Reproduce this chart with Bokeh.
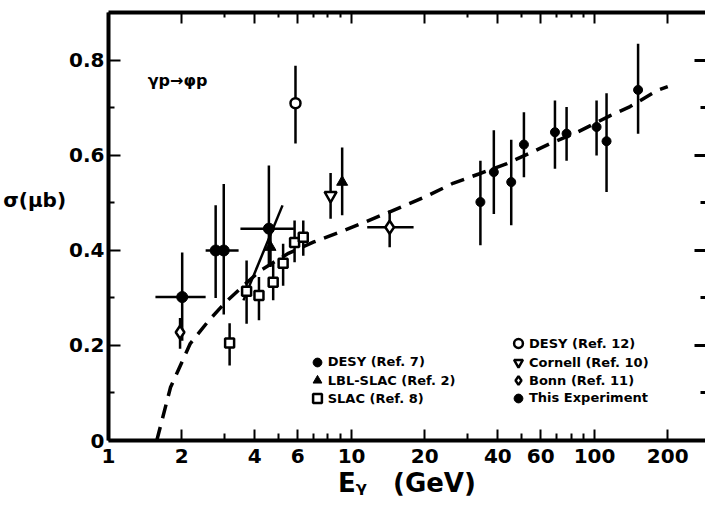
from bokeh.plotting import figure
from bokeh.models import (Range1d, LogAxis, LinearAxis, FixedTicker, Label,
                          Legend, LegendItem)
from bokeh.embed import file_html
from bokeh.resources import INLINE

# ---------------- data ----------------
# DESY (Ref. 7) - large filled circles
desy7_E = [2.01, 2.76, 2.98, 4.57]
desy7_y = [0.302, 0.40, 0.40, 0.446]
desy7_lo = [0.21, 0.30, 0.265, 0.37]
desy7_hi = [0.396, 0.495, 0.54, 0.579]
desy7_Elo = [1.56, 2.76, 2.51, 3.49]
desy7_Ehi = [2.51, 2.76, 3.43, 5.79]

# LBL-SLAC (Ref. 2) - filled triangles
lbl_E = [4.64, 9.15]
lbl_y = [0.407, 0.544]
lbl_lo = [0.365, 0.474]
lbl_hi = [0.45, 0.617]

# SLAC (Ref. 8) - open squares
slac_E = [3.15, 3.70, 4.16, 4.76, 5.23, 5.83, 6.33]
slac_y = [0.205, 0.314, 0.305, 0.333, 0.373, 0.417, 0.428]
slac_lo = [0.158, 0.246, 0.253, 0.295, 0.326, 0.375, 0.389]
slac_hi = [0.247, 0.379, 0.344, 0.372, 0.414, 0.463, 0.463]

# DESY (Ref. 12) - open circle
desy12_E = [5.88]
desy12_y = [0.710]
desy12_lo = [0.625]
desy12_hi = [0.789]

# Cornell (Ref. 10) - open inverted triangle
cornell_E = [8.2]
cornell_y = [0.516]
cornell_lo = [0.467]
cornell_hi = [0.563]

# Bonn (Ref. 11) - open diamonds
bonn_E = [1.97, 14.35]
bonn_y = [0.228, 0.449]
bonn_lo = [0.193, 0.407]
bonn_hi = [0.258, 0.484]
bonn_Elo = [1.97, 11.6]
bonn_Ehi = [1.97, 18.0]

# This Experiment - small filled circles
exp_E = [33.9, 38.5, 45.4, 51.2, 68.7, 76.7, 101.9, 112.0, 151.0]
exp_y = [0.502, 0.565, 0.544, 0.623, 0.649, 0.646, 0.660, 0.630, 0.738]
exp_lo = [0.411, 0.477, 0.453, 0.554, 0.572, 0.589, 0.600, 0.523, 0.646]
exp_hi = [0.589, 0.653, 0.633, 0.691, 0.716, 0.702, 0.716, 0.731, 0.835]

# dashed fit curve
curve_E = [1.58, 1.8, 2.17, 2.59, 3.03, 3.49, 4.22, 5.5, 7.0, 9.0, 11.0, 14.0,
           17.0, 20.5, 26.3, 33.4, 43.6, 55.2, 65.6, 85.0, 116.0, 140.0, 181.0, 200.0]
curve_y = [0.0, 0.112, 0.204, 0.253, 0.291, 0.32, 0.358, 0.394, 0.418, 0.439, 0.457, 0.479,
           0.497, 0.515, 0.542, 0.561, 0.583, 0.607, 0.625, 0.649, 0.684, 0.703, 0.737, 0.745]

# short solid line near 4-5 GeV
solid_E = [3.59, 5.2]
solid_y = [0.295, 0.495]

# axis ticks
x_major = [1, 2, 4, 6, 10, 20, 40, 60, 100, 200]
x_minor = [3, 5, 7, 8, 9, 30, 50, 70, 80, 90]
y_major = [0, 0.2, 0.4, 0.6, 0.8]
y_minor = [0.1, 0.3, 0.5, 0.7]
x_labels = {t: str(t) for t in x_major}
y_labels = {0: "0", 0.2: "0.2", 0.4: "0.4", 0.6: "0.6", 0.8: "0.8"}

# legend text
legend_left = ["DESY (Ref. 7)", "LBL-SLAC (Ref. 2)", "SLAC (Ref. 8)"]
legend_right = ["DESY (Ref. 12)", "Cornell (Ref. 10)", "Bonn (Ref. 11)", "This Experiment"]

FONT = "DejaVu Sans"
INK = "black"

# ---------------- figure ----------------
p = figure(width=705, height=512, x_axis_type="log",
           x_range=Range1d(1, 286), y_range=Range1d(0, 0.901),
           output_backend="svg", toolbar_location=None,
           min_border_left=108, min_border_right=0,
           min_border_top=12, min_border_bottom=72)
p.grid.visible = False
p.outline_line_color = None
p.background_fill_color = "white"
p.border_fill_color = "white"

# bottom axis
xa = p.xaxis[0]
xa.ticker = FixedTicker(ticks=x_major, minor_ticks=x_minor)
xa.major_label_overrides = x_labels
xa.major_tick_in = 11
xa.major_tick_out = 0
xa.minor_tick_in = 7
xa.minor_tick_out = 0
xa.axis_line_width = 4
xa.axis_line_color = INK
xa.major_tick_line_width = 2
xa.minor_tick_line_width = 2
xa.major_label_text_font = FONT
xa.major_label_text_font_style = "bold"
xa.major_label_text_font_size = "20px"
xa.major_label_text_color = INK
xa.major_label_standoff = 8
xa.axis_label = "E\u1d67\u2003(GeV)"
xa.axis_label_text_font = FONT
xa.axis_label_text_font_style = "bold"
xa.axis_label_text_font_size = "26px"
xa.axis_label_text_color = INK
xa.axis_label_standoff = 2

# left axis
ya = p.yaxis[0]
ya.ticker = FixedTicker(ticks=y_major, minor_ticks=y_minor)
ya.major_label_overrides = y_labels
ya.major_tick_in = 12
ya.major_tick_out = 0
ya.minor_tick_in = 6
ya.minor_tick_out = 0
ya.axis_line_width = 4
ya.axis_line_color = INK
ya.major_tick_line_width = 2
ya.minor_tick_line_width = 2
ya.major_label_text_font = FONT
ya.major_label_text_font_style = "bold"
ya.major_label_text_font_size = "20px"
ya.major_label_text_color = INK
ya.major_label_standoff = 4
ya.axis_label = "\u03c3(\u03bcb)\n\u2009\n\u2009"
ya.axis_label_orientation = "horizontal"
ya.axis_label_text_font = FONT
ya.axis_label_text_font_style = "bold"
ya.axis_label_text_font_size = "20px"
ya.axis_label_text_line_height = 1.1
ya.axis_label_text_color = INK
ya.axis_label_standoff = 0

# top axis (ticks only)
ta = LogAxis(ticker=FixedTicker(ticks=x_major, minor_ticks=x_minor))
ta.major_tick_in = 11
ta.major_tick_out = 0
ta.minor_tick_in = 5
ta.minor_tick_out = 0
ta.axis_line_width = 4
ta.major_tick_line_width = 2
ta.minor_tick_line_width = 2
ta.major_label_text_color = None
ta.major_label_text_font_size = "6px"
ta.major_label_standoff = 0
p.add_layout(ta, "above")

# right axis (ticks only)
ra = LinearAxis(ticker=FixedTicker(ticks=y_major, minor_ticks=y_minor))
ra.major_tick_in = 11
ra.major_tick_out = 0
ra.minor_tick_in = 5
ra.minor_tick_out = 0
ra.axis_line_color = None
ra.major_tick_line_width = 3
ra.minor_tick_line_width = 3
ra.major_label_text_color = None
ra.major_label_text_font_size = "6px"
ra.major_label_standoff = 0
p.add_layout(ra, "right")

# fit curve and solid line
p.line(curve_E, curve_y, line_dash="14 9", line_width=3.5, line_color=INK)
p.line(solid_E, solid_y, line_width=2.5, line_color=INK)

ERR_W = 2.5

def errbars(E, lo, hi, Elo=None, Ehi=None, y=None):
    p.segment(x0=E, y0=lo, x1=E, y1=hi, line_width=ERR_W, line_color=INK)
    if Elo is not None:
        p.segment(x0=Elo, y0=y, x1=Ehi, y1=y, line_width=ERR_W, line_color=INK)

errbars(desy7_E, desy7_lo, desy7_hi, desy7_Elo, desy7_Ehi, desy7_y)
errbars(lbl_E, lbl_lo, lbl_hi)
errbars(slac_E, slac_lo, slac_hi)
errbars(desy12_E, desy12_lo, desy12_hi)
errbars(cornell_E, cornell_lo, cornell_hi)
errbars(bonn_E, bonn_lo, bonn_hi, bonn_Elo, bonn_Ehi, bonn_y)
errbars(exp_E, exp_lo, exp_hi)

r_desy7 = p.scatter(desy7_E, desy7_y, marker="circle", size=11,
                    fill_color=INK, line_color=INK)
r_lbl = p.scatter(lbl_E, lbl_y, marker="triangle", size=11,
                  fill_color=INK, line_color=INK)
r_slac = p.scatter(slac_E, slac_y, marker="square", size=9, line_width=2.5,
                   fill_color="white", line_color=INK)
r_desy12 = p.scatter(desy12_E, desy12_y, marker="circle", size=10, line_width=2.5,
                     fill_color="white", line_color=INK)
r_cornell = p.scatter(cornell_E, cornell_y, marker="inverted_triangle", size=12,
                      line_width=2.5, fill_color="white", line_color=INK)
r_bonn = p.scatter(bonn_E, bonn_y, marker="diamond", size=13, line_width=2.5,
                   fill_color="white", line_color=INK)
r_exp = p.scatter(exp_E, exp_y, marker="circle", size=9,
                  fill_color=INK, line_color=INK)

# reaction label
p.add_layout(Label(x=1.45, y=0.758, text="\u03b3p\u2192\u03c6p", text_font=FONT,
                   text_font_style="bold", text_font_size="16px", text_color=INK,
                   text_baseline="middle", text_align="left"))

# legends: one single-item legend per row so that rows sit 18 px apart
GLYPH_W, GLYPH_H = 22, 24

def legend_row(label, renderer, glyph_cx, row_cy):
    # location is measured in screen px from the frame's bottom-left corner
    frame_left, frame_bottom = 108, 440
    loc = (glyph_cx - GLYPH_W / 2 - frame_left, frame_bottom - row_cy - GLYPH_H / 2)
    lg = Legend(items=[LegendItem(label=label, renderers=[renderer])],
                location=loc, orientation="vertical",
                border_line_color=None, background_fill_alpha=0,
                padding=0, margin=0, spacing=0,
                glyph_width=GLYPH_W, glyph_height=GLYPH_H,
                label_height=GLYPH_H, label_standoff=0,
                label_text_font=FONT, label_text_font_style="bold",
                label_text_font_size="13px", label_text_color=INK)
    p.add_layout(lg, "center")

left_rows = [361.7, 380.0, 398.3]
right_rows = [343.3, 362.3, 380.0, 397.7]
for lab, r, cy in zip(legend_left, [r_desy7, r_lbl, r_slac], left_rows):
    legend_row(lab, r, 316.7, cy)
for lab, r, cy in zip(legend_right, [r_desy12, r_cornell, r_bonn, r_exp], right_rows):
    legend_row(lab, r, 518.0, cy)

open("out.html", "w").write(file_html(p, INLINE))
